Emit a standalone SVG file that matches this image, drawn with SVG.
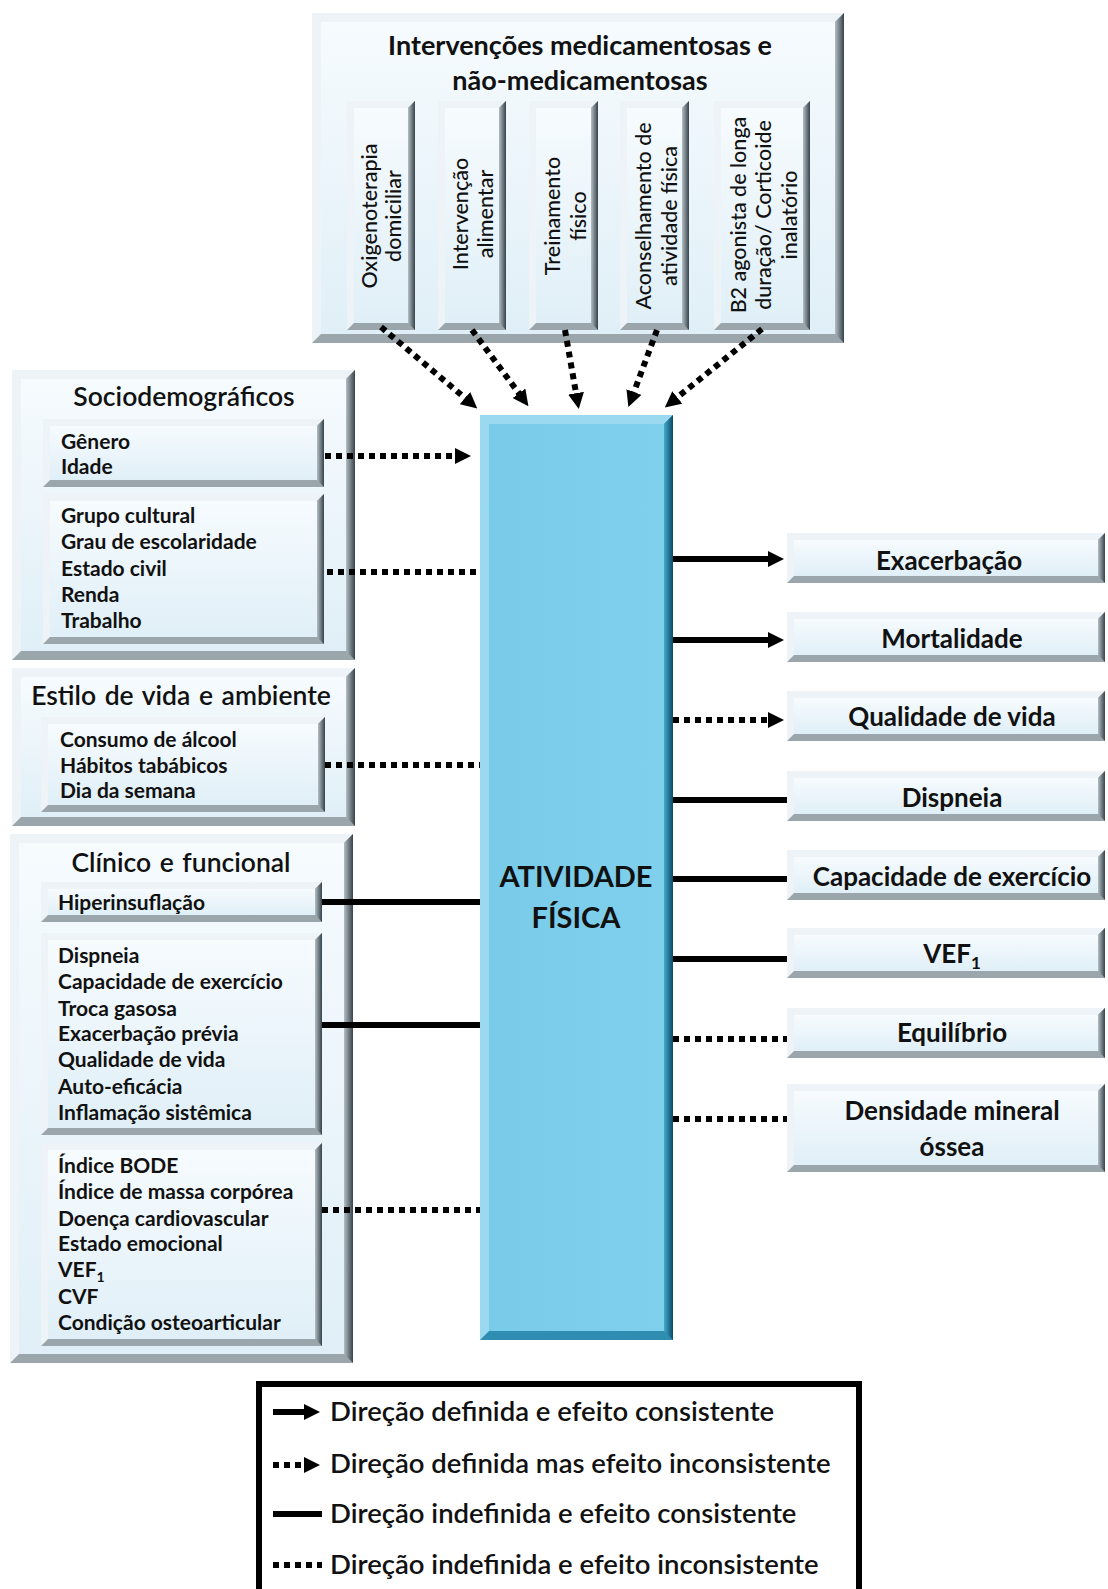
<svg xmlns="http://www.w3.org/2000/svg" width="1108" height="1589" viewBox="0 0 1108 1589">
<defs>
<linearGradient id="gFace" x1="0" y1="0" x2="0" y2="1"><stop offset="0" stop-color="#f6fbfe"/><stop offset="1" stop-color="#e0eff7"/></linearGradient>
<linearGradient id="gDark" x1="0" y1="0" x2="1" y2="0"><stop offset="0" stop-color="#b4bec4"/><stop offset="1" stop-color="#37434b"/></linearGradient>
<linearGradient id="gBlueFace" x1="0" y1="0" x2="1" y2="0"><stop offset="0" stop-color="#78cbe9"/><stop offset="1" stop-color="#7fd0ed"/></linearGradient>
<linearGradient id="gBlueDark" x1="0" y1="0" x2="1" y2="0"><stop offset="0" stop-color="#44aad0"/><stop offset="1" stop-color="#0b4a64"/></linearGradient>
<marker id="ah" markerUnits="userSpaceOnUse" viewBox="0 0 16 16" markerWidth="16" markerHeight="16" refX="1" refY="8" orient="auto"><path d="M0,0 L16,8 L0,16 Z" fill="#000"/></marker>
<style>
.bs{fill:#9aa5ac}
.bl{fill:#edf3f7}
.bd{fill:url(#gDark)}
.fc{fill:url(#gFace)}
.t{font-family:Lato,"Open Sans","Liberation Sans",sans-serif;fill:#111}
.li{font-size:21px;font-weight:700}
.gt{font-size:26.5px;font-weight:600;text-anchor:middle}
.tt{font-size:27px;font-weight:700;text-anchor:middle}
.rt{font-size:26px;font-weight:700;text-anchor:middle}
.vt{font-size:21.5px;font-weight:500;text-anchor:middle}
.ct{font-size:29px;font-weight:700;text-anchor:middle}
.lg{font-size:27.5px;font-weight:600}
.sol{stroke:#000;stroke-width:6;fill:none}
.dot{stroke:#000;stroke-width:6;stroke-dasharray:6 5;fill:none}
</style>
</defs>
<rect width="1108" height="1589" fill="#fff"/>

<!-- Top interventions box -->
<g id="intervencoes">
<rect class="bs" x="312" y="13" width="532" height="330"/>
<path class="bl" d="M312,13 H844 L835,22 H321 V334 L312,343 Z"/>
<path class="bd" d="M844,13 V343 L835,334 V22 Z"/>
<rect class="fc" x="321" y="22" width="514" height="312"/>
<text class="t tt" x="580" y="55">Intervenções medicamentosas e</text>
<text class="t tt" x="580" y="90">não-medicamentosas</text>
</g>
<g id="oxigenoterapia">
<rect class="bs" x="347" y="101" width="68" height="229"/>
<path class="bl" d="M347,101 H415 L408,108 H354 V323 L347,330 Z"/>
<path class="bd" d="M415,101 V330 L408,323 V108 Z"/>
<rect class="fc" x="354" y="108" width="54" height="215"/>
<text class="t vt" transform="translate(369,216) rotate(-90)" dy="0.35em">Oxigenoterapia</text>
<text class="t vt" transform="translate(393,216) rotate(-90)" dy="0.35em">domiciliar</text>
</g>
<g id="intervencao-alimentar">
<rect class="bs" x="438" y="101" width="68" height="229"/>
<path class="bl" d="M438,101 H506 L499,108 H445 V323 L438,330 Z"/>
<path class="bd" d="M506,101 V330 L499,323 V108 Z"/>
<rect class="fc" x="445" y="108" width="54" height="215"/>
<text class="t vt" transform="translate(460,214) rotate(-90)" dy="0.35em">Intervenção</text>
<text class="t vt" transform="translate(485,214) rotate(-90)" dy="0.35em">alimentar</text>
</g>
<g id="treinamento">
<rect class="bs" x="529" y="101" width="69" height="229"/>
<path class="bl" d="M529,101 H598 L591,108 H536 V323 L529,330 Z"/>
<path class="bd" d="M598,101 V330 L591,323 V108 Z"/>
<rect class="fc" x="536" y="108" width="55" height="215"/>
<text class="t vt" transform="translate(552,216) rotate(-90)" dy="0.35em">Treinamento</text>
<text class="t vt" transform="translate(578,216) rotate(-90)" dy="0.35em">físico</text>
</g>
<g id="aconselhamento">
<rect class="bs" x="620" y="101" width="69" height="229"/>
<path class="bl" d="M620,101 H689 L682,108 H627 V323 L620,330 Z"/>
<path class="bd" d="M689,101 V330 L682,323 V108 Z"/>
<rect class="fc" x="627" y="108" width="55" height="215"/>
<text class="t vt" transform="translate(643,216) rotate(-90)" dy="0.35em">Aconselhamento de</text>
<text class="t vt" transform="translate(669,216) rotate(-90)" dy="0.35em">atividade física</text>
</g>
<g id="b2-agonista">
<rect class="bs" x="714" y="101" width="96" height="229"/>
<path class="bl" d="M714,101 H810 L803,108 H721 V323 L714,330 Z"/>
<path class="bd" d="M810,101 V330 L803,323 V108 Z"/>
<rect class="fc" x="721" y="108" width="82" height="215"/>
<text class="t vt" transform="translate(738,215) rotate(-90)" dy="0.35em" font-size="21">B2 agonista de longa</text>
<text class="t vt" transform="translate(763,215) rotate(-90)" dy="0.35em" font-size="21">duração/ Corticoide</text>
<text class="t vt" transform="translate(789,215) rotate(-90)" dy="0.35em" font-size="21">inalatório</text>
</g>

<!-- Left: Sociodemográficos -->
<g id="sociodemograficos">
<rect class="bs" x="12" y="370" width="343" height="290"/>
<path class="bl" d="M12,370 H355 L346,379 H21 V651 L12,660 Z"/>
<path class="bd" d="M355,370 V660 L346,651 V379 Z"/>
<rect class="fc" x="21" y="379" width="325" height="272"/>
<text class="t gt" x="184" y="406">Sociodemográficos</text>
</g>
<g id="genero-idade">
<rect class="bs" x="43" y="419" width="281" height="68"/>
<path class="bl" d="M43,419 H324 L317,426 H50 V480 L43,487 Z"/>
<path class="bd" d="M324,419 V487 L317,480 V426 Z"/>
<rect class="fc" x="50" y="426" width="267" height="54"/>
<text class="t li" x="61" y="449">Gênero</text>
<text class="t li" x="61" y="474">Idade</text>
</g>
<g id="grupo-cultural">
<rect class="bs" x="43" y="494" width="281" height="150"/>
<path class="bl" d="M43,494 H324 L317,501 H50 V637 L43,644 Z"/>
<path class="bd" d="M324,494 V644 L317,637 V501 Z"/>
<rect class="fc" x="50" y="501" width="267" height="136"/>
<text class="t li" x="61" y="523">Grupo cultural</text>
<text class="t li" x="61" y="549">Grau de escolaridade</text>
<text class="t li" x="61" y="576">Estado civil</text>
<text class="t li" x="61" y="602">Renda</text>
<text class="t li" x="61" y="628">Trabalho</text>
</g>

<!-- Left: Estilo de vida -->
<g id="estilo-de-vida">
<rect class="bs" x="12" y="668" width="343" height="158"/>
<path class="bl" d="M12,668 H355 L346,677 H21 V817 L12,826 Z"/>
<path class="bd" d="M355,668 V826 L346,817 V677 Z"/>
<rect class="fc" x="21" y="677" width="325" height="140"/>
<text class="t gt" x="181" y="705" word-spacing="2">Estilo de vida e ambiente</text>
</g>
<g id="consumo-alcool">
<rect class="bs" x="41" y="717" width="284" height="95"/>
<path class="bl" d="M41,717 H325 L318,724 H48 V805 L41,812 Z"/>
<path class="bd" d="M325,717 V812 L318,805 V724 Z"/>
<rect class="fc" x="48" y="724" width="270" height="81"/>
<text class="t li" x="60" y="747">Consumo de álcool</text>
<text class="t li" x="60" y="773">Hábitos tabábicos</text>
<text class="t li" x="60" y="798">Dia da semana</text>
</g>

<!-- Left: Clínico e funcional -->
<g id="clinico-funcional">
<rect class="bs" x="10" y="834" width="343" height="529"/>
<path class="bl" d="M10,834 H353 L344,843 H19 V1354 L10,1363 Z"/>
<path class="bd" d="M353,834 V1363 L344,1354 V843 Z"/>
<rect class="fc" x="19" y="843" width="325" height="511"/>
<text class="t gt" x="181" y="872" word-spacing="2">Clínico e funcional</text>
</g>
<g id="hiperinsuflacao">
<rect class="bs" x="41" y="882" width="281" height="40"/>
<path class="bl" d="M41,882 H322 L315,889 H48 V915 L41,922 Z"/>
<path class="bd" d="M322,882 V922 L315,915 V889 Z"/>
<rect class="fc" x="48" y="889" width="267" height="26"/>
<text class="t li" x="58" y="910">Hiperinsuflação</text>
</g>
<g id="dispneia-grupo">
<rect class="bs" x="41" y="933" width="281" height="202"/>
<path class="bl" d="M41,933 H322 L315,940 H48 V1128 L41,1135 Z"/>
<path class="bd" d="M322,933 V1135 L315,1128 V940 Z"/>
<rect class="fc" x="48" y="940" width="267" height="188"/>
<text class="t li" x="58" y="963">Dispneia</text>
<text class="t li" x="58" y="989">Capacidade de exercício</text>
<text class="t li" x="58" y="1016">Troca gasosa</text>
<text class="t li" x="58" y="1041">Exacerbação prévia</text>
<text class="t li" x="58" y="1067">Qualidade de vida</text>
<text class="t li" x="58" y="1094">Auto-eficácia</text>
<text class="t li" x="58" y="1120">Inflamação sistêmica</text>
</g>
<g id="indice-bode-grupo">
<rect class="bs" x="41" y="1143" width="281" height="203"/>
<path class="bl" d="M41,1143 H322 L315,1150 H48 V1339 L41,1346 Z"/>
<path class="bd" d="M322,1143 V1346 L315,1339 V1150 Z"/>
<rect class="fc" x="48" y="1150" width="267" height="189"/>
<text class="t li" x="58" y="1173">Índice BODE</text>
<text class="t li" x="58" y="1199">Índice de massa corpórea</text>
<text class="t li" x="58" y="1226">Doença cardiovascular</text>
<text class="t li" x="58" y="1251">Estado emocional</text>
<text class="t li" x="58" y="1277">VEF<tspan font-size="14" dy="5">1</tspan></text>
<text class="t li" x="58" y="1304">CVF</text>
<text class="t li" x="58" y="1330">Condição osteoarticular</text>
</g>

<!-- Center -->
<g id="atividade-fisica">
<rect x="480" y="415" width="193" height="925" fill="#2f8db1"/>
<path d="M480,415 H673 L664,424 H489 V1331 L480,1340 Z" fill="#9ad9f0"/>
<path d="M673,415 V1340 L664,1331 V424 Z" fill="url(#gBlueDark)"/>
<rect x="489" y="424" width="175" height="907" fill="url(#gBlueFace)"/>
<text class="t ct" x="576" y="887">ATIVIDADE</text>
<text class="t ct" x="576" y="928">FÍSICA</text>
</g>

<!-- Right outcome boxes -->
<g id="exacerbacao">
<rect class="bs" x="787" y="533" width="318" height="50"/>
<path class="bl" d="M787,533 H1105 L1098,540 H794 V576 L787,583 Z"/>
<path class="bd" d="M1105,533 V583 L1098,576 V540 Z"/>
<rect class="fc" x="794" y="540" width="304" height="36"/>
<text class="t rt" x="949" y="570">Exacerbação</text>
</g>
<g id="mortalidade">
<rect class="bs" x="787" y="612" width="318" height="50"/>
<path class="bl" d="M787,612 H1105 L1098,619 H794 V655 L787,662 Z"/>
<path class="bd" d="M1105,612 V662 L1098,655 V619 Z"/>
<rect class="fc" x="794" y="619" width="304" height="36"/>
<text class="t rt" x="952" y="648">Mortalidade</text>
</g>
<g id="qualidade-de-vida">
<rect class="bs" x="787" y="691" width="318" height="50"/>
<path class="bl" d="M787,691 H1105 L1098,698 H794 V734 L787,741 Z"/>
<path class="bd" d="M1105,691 V741 L1098,734 V698 Z"/>
<rect class="fc" x="794" y="698" width="304" height="36"/>
<text class="t rt" x="952" y="726">Qualidade de vida</text>
</g>
<g id="dispneia">
<rect class="bs" x="787" y="771" width="318" height="50"/>
<path class="bl" d="M787,771 H1105 L1098,778 H794 V814 L787,821 Z"/>
<path class="bd" d="M1105,771 V821 L1098,814 V778 Z"/>
<rect class="fc" x="794" y="778" width="304" height="36"/>
<text class="t rt" x="952" y="807">Dispneia</text>
</g>
<g id="capacidade-exercicio">
<rect class="bs" x="787" y="850" width="318" height="50"/>
<path class="bl" d="M787,850 H1105 L1098,857 H794 V893 L787,900 Z"/>
<path class="bd" d="M1105,850 V900 L1098,893 V857 Z"/>
<rect class="fc" x="794" y="857" width="304" height="36"/>
<text class="t rt" x="952" y="886">Capacidade de exercício</text>
</g>
<g id="vef1">
<rect class="bs" x="787" y="928" width="318" height="50"/>
<path class="bl" d="M787,928 H1105 L1098,935 H794 V971 L787,978 Z"/>
<path class="bd" d="M1105,928 V978 L1098,971 V935 Z"/>
<rect class="fc" x="794" y="935" width="304" height="36"/>
<text class="t rt" x="952" y="963">VEF<tspan font-size="17" dy="6">1</tspan></text>
</g>
<g id="equilibrio">
<rect class="bs" x="787" y="1008" width="318" height="50"/>
<path class="bl" d="M787,1008 H1105 L1098,1015 H794 V1051 L787,1058 Z"/>
<path class="bd" d="M1105,1008 V1058 L1098,1051 V1015 Z"/>
<rect class="fc" x="794" y="1015" width="304" height="36"/>
<text class="t rt" x="952" y="1042">Equilíbrio</text>
</g>
<g id="densidade-mineral">
<rect class="bs" x="787" y="1084" width="318" height="88"/>
<path class="bl" d="M787,1084 H1105 L1098,1091 H794 V1165 L787,1172 Z"/>
<path class="bd" d="M1105,1084 V1172 L1098,1165 V1091 Z"/>
<rect class="fc" x="794" y="1091" width="304" height="74"/>
<text class="t rt" x="952" y="1120">Densidade mineral</text>
<text class="t rt" x="952" y="1156">óssea</text>
</g>

<!-- Connectors -->
<g id="connectors">
<line class="dot" x1="381" y1="327" x2="465.8" y2="398.7" marker-end="url(#ah)"/>
<line class="dot" x1="472" y1="330" x2="519.5" y2="394.1" marker-end="url(#ah)"/>
<line class="dot" x1="565" y1="330" x2="576.2" y2="394.2" marker-end="url(#ah)"/>
<line class="dot" x1="657" y1="330" x2="633.6" y2="393" marker-end="url(#ah)"/>
<line class="dot" x1="762" y1="329" x2="676.5" y2="398" marker-end="url(#ah)"/>
<line class="dot" x1="325" y1="456" x2="456" y2="456" marker-end="url(#ah)"/>
<line class="dot" x1="327" y1="572" x2="480" y2="572"/>
<line class="dot" x1="325" y1="765" x2="480" y2="765"/>
<line class="sol" x1="322" y1="902" x2="480" y2="902"/>
<line class="sol" x1="322" y1="1025" x2="480" y2="1025"/>
<line class="dot" x1="322" y1="1210" x2="480" y2="1210"/>
<line class="sol" x1="673" y1="559" x2="769" y2="559" marker-end="url(#ah)"/>
<line class="sol" x1="673" y1="640" x2="769" y2="640" marker-end="url(#ah)"/>
<line class="dot" x1="673" y1="720" x2="769" y2="720" marker-end="url(#ah)"/>
<line class="sol" x1="673" y1="800" x2="787" y2="800"/>
<line class="sol" x1="673" y1="879" x2="787" y2="879"/>
<line class="sol" x1="673" y1="959" x2="787" y2="959"/>
<line class="dot" x1="673" y1="1039" x2="787" y2="1039"/>
<line class="dot" x1="673" y1="1119" x2="787" y2="1119"/>
</g>

<!-- Legend -->
<g id="legenda">
<rect x="259" y="1384" width="600" height="230" fill="#fff" stroke="#000" stroke-width="6"/>
<line class="sol" x1="273" y1="1412" x2="305" y2="1412" marker-end="url(#ah)"/>
<line class="dot" x1="273" y1="1465" x2="305" y2="1465" marker-end="url(#ah)"/>
<line class="sol" x1="273" y1="1514" x2="322" y2="1514"/>
<line class="dot" x1="273" y1="1565" x2="322" y2="1565"/>
<text class="t lg" x="330" y="1421">Direção definida e efeito consistente</text>
<text class="t lg" x="330" y="1473">Direção definida mas efeito inconsistente</text>
<text class="t lg" x="330" y="1523">Direção indefinida e efeito consistente</text>
<text class="t lg" x="330" y="1574">Direção indefinida e efeito inconsistente</text>
</g>
</svg>
